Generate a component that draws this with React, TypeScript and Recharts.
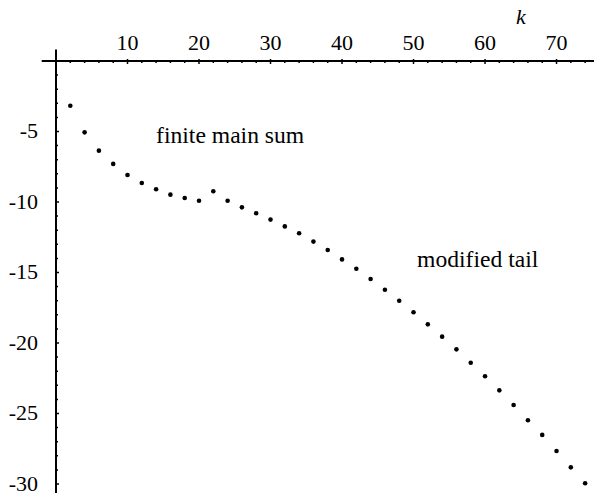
import {
    ScatterChart,
    Scatter,
    XAxis,
    YAxis,
    ReferenceLine,
    ReferenceDot,
} from "recharts";

// k values (even steps) and the plotted sums
const kValues = [
    2, 4, 6, 8, 10, 12, 14, 16, 18, 20, 22, 24, 26, 28, 30, 32, 34, 36, 38,
    40, 42, 44, 46, 48, 50, 52, 54, 56, 58, 60, 62, 64, 66, 68, 70, 72, 74,
];
const sumValues = [
    -3.17, -5.06, -6.36, -7.3, -8.09, -8.65, -9.1, -9.48, -9.72, -9.91, -9.24,
    -9.91, -10.38, -10.8, -11.25, -11.73, -12.22, -12.81, -13.4, -14.07,
    -14.73, -15.46, -16.22, -17.0, -17.82, -18.68, -19.55, -20.45, -21.4,
    -22.36, -23.36, -24.4, -25.48, -26.52, -27.66, -28.82, -29.95,
];
const xTicks = [
    2, 4, 6, 8, 10, 12, 14, 16, 18, 20, 22, 24, 26, 28, 30, 32, 34, 36, 38,
    40, 42, 44, 46, 48, 50, 52, 54, 56, 58, 60, 62, 64, 66, 68, 70, 72, 74,
];
const yTicks = [
    -1, -2, -3, -4, -5, -6, -7, -8, -9, -10, -11, -12, -13, -14, -15, -16,
    -17, -18, -19, -20, -21, -22, -23, -24, -25, -26, -27, -28, -29, -30,
];

const SERIF = "Liberation Serif";

const data = kValues.map((k, i) => ({ k, v: sumValues[i] }));

function XTick({ x, y, payload }: any) {
    const major = payload.value % 10 === 0;
    return (
        <g>
            <line x1={x} x2={x} y1={y - (major ? 2 : 0)} y2={y + (major ? 3 : 2)} stroke="#000" strokeWidth={1.5} />
            {major && (
                <text x={x} y={y - 11} textAnchor="middle" fontFamily={SERIF} fontSize={22} fill="#000">
                    {payload.value}
                </text>
            )}
        </g>
    );
}

function YTick({ x, y, payload }: any) {
    const major = payload.value % 5 === 0;
    return (
        <g>
            <line x1={x} x2={x + (major ? 3 : 2)} y1={y} y2={y} stroke="#000" strokeWidth={1.5} />
            {major && (
                <text x={x - 18} y={y + 7} textAnchor="end" fontFamily={SERIF} fontSize={22} fill="#000">
                    {payload.value}
                </text>
            )}
        </g>
    );
}

function Note({ cx, cy, text, italic, anchor }: any) {
    return (
        <text
            x={cx}
            y={cy}
            textAnchor={anchor ?? "start"}
            fontFamily={SERIF}
            fontSize={italic ? 22 : 23.6}
            fontStyle={italic ? "italic" : "normal"}
            fill="#000"
        >
            {text}
        </text>
    );
}

function Dot({ cx, cy }: any) {
    return <circle cx={cx} cy={cy} r={2.3} fill="#000" />;
}

export default function App() {
    return (
        <div style={{ position: "absolute", left: 0, top: 0, background: "#fff", fontFamily: SERIF }}>
            <ScatterChart width={594} height={498} margin={{ top: 0, right: 0, bottom: 5, left: 0 }}>
                <XAxis
                    dataKey="k"
                    type="number"
                    orientation="top"
                    domain={[0, 75.24]}
                    ticks={xTicks}
                    interval={0}
                    height={61}
                    tickSize={0}
                    tickMargin={0}
                    tickLine={false}
                    tick={<XTick />}
                    axisLine={{ stroke: "#000", strokeWidth: 2 }}
                    allowDataOverflow
                />
                <YAxis
                    dataKey="v"
                    type="number"
                    domain={[-30.64, 0]}
                    ticks={yTicks}
                    interval={0}
                    width={56}
                    tickSize={0}
                    tickMargin={0}
                    tickLine={false}
                    tick={<YTick />}
                    axisLine={{ stroke: "#000", strokeWidth: 2 }}
                    allowDataOverflow
                />
                <ReferenceLine
                    segment={[{ x: -2, y: 0 }, { x: 0, y: 0 }]}
                    stroke="#000"
                    strokeWidth={2}
                    ifOverflow="visible"
                />
                <ReferenceLine
                    segment={[{ x: 0, y: 0 }, { x: 0, y: 0.82 }]}
                    stroke="#000"
                    strokeWidth={2}
                    ifOverflow="visible"
                />
                <Scatter data={data} fill="#000" shape={<Dot />} isAnimationActive={false} />
                <ReferenceDot x={14} y={-5.82} r={0} ifOverflow="visible"
                    shape={(p: any) => <Note {...p} text="finite main sum" />} />
                <ReferenceDot x={50.5} y={-14.6} r={0} ifOverflow="visible"
                    shape={(p: any) => <Note {...p} text="modified tail" />} />
                <ReferenceDot x={65} y={2.6} r={0} ifOverflow="visible"
                    shape={(p: any) => <Note {...p} text="k" italic anchor="middle" />} />
            </ScatterChart>
        </div>
    );
}
